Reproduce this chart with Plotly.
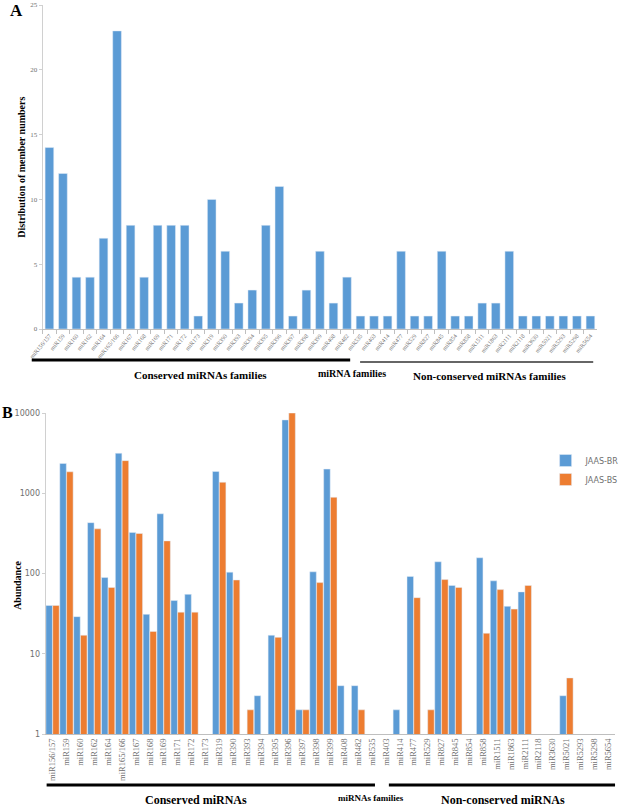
import plotly.graph_objects as go

W, H = 625, 808

categories = ["miR156/157", "miR159", "miR160", "miR162", "miR164", "miR165/166", "miR167",
              "miR168", "miR169", "miR171", "miR172", "miR173", "miR319", "miR390", "miR393",
              "miR394", "miR395", "miR396", "miR397", "miR398", "miR399", "miR408", "miR482",
              "miR535", "miR403", "miR414", "miR477", "miR529", "miR827", "miR845", "miR854",
              "miR858", "miR1511", "miR1863", "miR2111", "miR2118", "miR3630", "miR5021",
              "miR5293", "miR5298", "miR5654"]

member_numbers = [14, 12, 4, 4, 7, 23, 8, 4, 8, 8, 8, 1, 10, 6, 2, 3, 8, 11, 1, 3, 6, 2, 4,
                  1, 1, 1, 6, 1, 1, 6, 1, 1, 2, 2, 6, 1, 1, 1, 1, 1, 1]

abundance_br = [40, 2350, 29, 430, 89, 3150, 325, 31, 555, 46, 55, None, 1870, 104, None,
                3, 17, 8200, 2, 105, 2000, 4, 4, None, None, 2, 92, None, 140, 71, None,
                157, 81, 39, 59, None, None, 3, None, None, None]

abundance_bs = [40, 1850, 17, 360, 67, 2550, 315, 19, 255, 33, 33, None, 1370, 83, 2,
                None, 16, 10000, 2, 77, 890, None, 2, None, None, None, 50, 2, 84, 67, None,
                18, 63, 36, 71, None, None, 5, None, None, None]

a_yticks = [0, 5, 10, 15, 20, 25]
b_yticks = [1, 10, 100, 1000, 10000]

BLUE = "#5B9BD5"
ORANGE = "#ED7D31"
GREY = "#6f6f6f"
SERIF = "Liberation Serif"
SANS = "DejaVu Sans"


def px(x):
    return x / W


def py(y):
    return 1 - y / H


fig = go.Figure()

fig.add_trace(go.Bar(x=categories, y=member_numbers, marker_color=BLUE, xaxis="x", yaxis="y",
                     showlegend=False, name="Members", width=0.64))
fig.add_trace(go.Bar(x=categories, y=abundance_br, marker_color=BLUE, xaxis="x2", yaxis="y2",
                     name="JAAS-BR", width=0.47, offset=-0.48))
fig.add_trace(go.Bar(x=categories, y=abundance_bs, marker_color=ORANGE, xaxis="x2", yaxis="y2",
                     name="JAAS-BS", width=0.47, offset=0.01))

fig.update_layout(
    width=W, height=H,
    margin=dict(l=0, r=0, t=0, b=0),
    paper_bgcolor="white", plot_bgcolor="white",
    barmode="group",
    xaxis=dict(domain=[px(43), px(602)], anchor="y", type="category",
               tickangle=-50, tickfont=dict(family=SERIF, size=6, color=GREY),
               showline=True, linecolor="#bfbfbf", linewidth=1,
               ticks="outside", tickson="boundaries", ticklen=4, tickcolor="#bfbfbf",
               showgrid=False, automargin=False),
    yaxis=dict(domain=[py(329), py(5)], anchor="x", range=[0, 25], tickvals=a_yticks,
               tickfont=dict(family=SERIF, size=7, color=GREY),
               showline=True, linecolor="#d0d0d0", linewidth=1,
               ticks="outside", ticklen=3, tickcolor="#d0d0d0",
               showgrid=False, zeroline=False, automargin=False),
    xaxis2=dict(domain=[px(46), px(620)], anchor="y2", type="category",
                tickangle=-90, tickfont=dict(family=SERIF, size=8.5, color=GREY),
                showline=True, linecolor="#bfbfbf", linewidth=1,
                ticks="", showgrid=False, automargin=False),
    yaxis2=dict(domain=[py(734), py(413)], anchor="x2", type="log", range=[0, 4],
                tickvals=b_yticks, ticktext=[str(v) for v in b_yticks],
                tickfont=dict(family=SANS, size=8, color=GREY),
                showline=True, linecolor="#d0d0d0", linewidth=1,
                ticks="outside", ticklen=3, tickcolor="#d0d0d0",
                showgrid=False, zeroline=False, automargin=False),
    legend=dict(x=px(550), y=py(446), xanchor="left", yanchor="top",
                font=dict(family=SANS, size=8, color=GREY),
                bgcolor="rgba(0,0,0,0)", tracegroupgap=0),
)

# Group underlines
shapes = [
    dict(type="line", xref="paper", yref="paper", x0=px(32), x1=px(353), y0=py(360), y1=py(360),
         line=dict(color="black", width=3)),
    dict(type="line", xref="paper", yref="paper", x0=px(363), x1=px(598), y0=py(362), y1=py(362),
         line=dict(color="#333333", width=1.5)),
    dict(type="line", xref="paper", yref="paper", x0=px(47), x1=px(378), y0=py(785), y1=py(785),
         line=dict(color="black", width=3)),
    dict(type="line", xref="paper", yref="paper", x0=px(392), x1=px(620), y0=py(785), y1=py(785),
         line=dict(color="black", width=3)),
]
fig.update_layout(shapes=shapes)


def ann(text, x, y, size, angle=0, bold=True, xanchor="center"):
    return dict(text=f"<b>{text}</b>" if bold else text, x=px(x), y=py(y), xref="paper",
                yref="paper", showarrow=False, textangle=angle, xanchor=xanchor,
                yanchor="middle", font=dict(family=SERIF, size=size, color="black"))


annotations = [
    ann("A", 17, 10, 17),
    ann("B", 8, 412, 16),
    ann("Distribution of member numbers", 22, 167, 10, angle=-90),
    ann("Abundance", 17, 585, 10, angle=-90),
    ann("Conserved miRNAs families", 202, 375, 11),
    ann("miRNA families", 355, 373, 10),
    ann("Non-conserved miRNAs families", 493, 376, 11),
    ann("Conserved miRNAs", 198, 800, 12),
    ann("miRNAs families", 374, 798, 9),
    ann("Non-conserved miRNAs", 507, 800, 12),
]
fig.update_layout(annotations=annotations)

fig.write_html("out.html",
               config={"displayModeBar": False},
               post_script="document.body.style.margin='0';document.body.style.padding='0';"
                           "document.body.style.overflow='hidden';")
